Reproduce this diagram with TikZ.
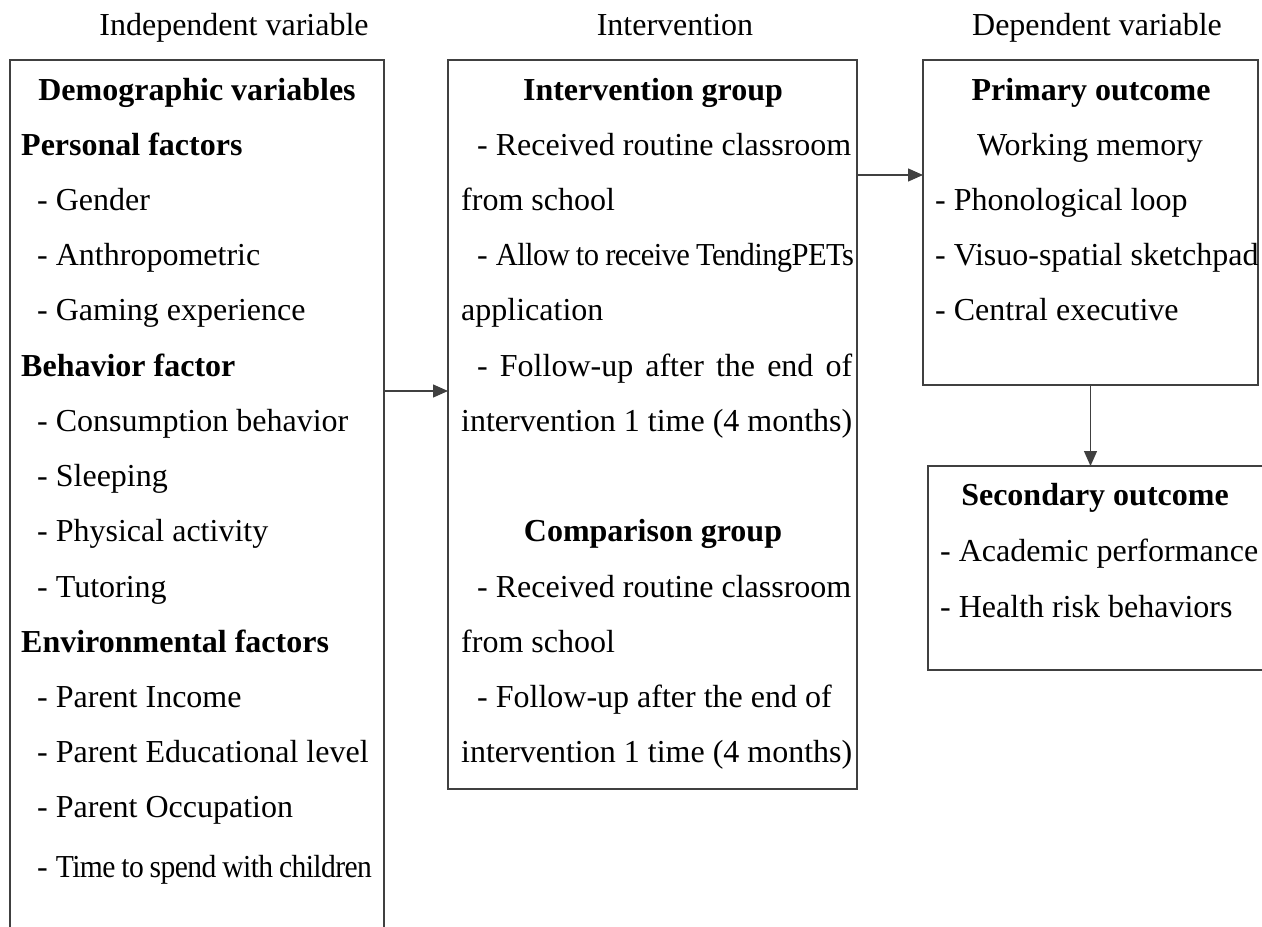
\documentclass[tikz,border=0pt]{standalone}
\usepackage{fontspec}
\setmainfont{Liberation Serif}
\newfontfamily\tightserif[LetterSpace=-2]{Liberation Serif}
\usepackage{graphicx}
\usetikzlibrary{arrows.meta}

\definecolor{linegray}{HTML}{404040}

% set words with slightly tight tracking and fit them to a given width, keeping their height
\newcommand{\tightline}[2]{\resizebox{#1}{\height}{\tightserif\spaceskip=0.2em plus 0.05em minus 0.05em #2}}

\tikzset{
  x=1pt, y=-1pt,
  basefont/.style={font=\fontsize{32}{38}\selectfont},
  frame/.style={draw=linegray, line width=1.6pt, inner sep=0pt, outer sep=0pt, anchor=north west},
  lt/.style={basefont, inner sep=0pt, anchor=base west},
  ct/.style={basefont, inner sep=0pt, anchor=base},
  hdc/.style={font=\fontsize{32}{38}\selectfont\bfseries, inner sep=0pt, anchor=base},
  hdl/.style={font=\fontsize{32}{38}\selectfont\bfseries, inner sep=0pt, anchor=base west},
  link/.style={draw=linegray, line width=1.3pt, -{Triangle[length=15pt,width=13pt]}},
}

\begin{document}
\begin{tikzpicture}
\useasboundingbox (0,0) rectangle (1262,927);

% column titles
\node[ct] (t1) at (234,35) {Independent variable};
\node[ct] (t2) at (675,35) {Intervention};
\node[ct] (t3) at (1097,35) {Dependent variable};

% frames
\node[frame, minimum width=374pt, minimum height=875pt] (indep) at (10,60) {};
\node[frame, minimum width=409pt, minimum height=729pt] (interv) at (448,60) {};
\node[frame, minimum width=335pt, minimum height=325pt] (primary) at (923,60) {};
\node[frame, minimum width=336pt, minimum height=204pt] (secondary) at (928,466) {};

% independent variables
\node[hdc] (d0) at (197,100) {Demographic variables};
\node[hdl] (d1) at (21,155) {Personal factors};
\node[lt] (d2) at (37,210) {- Gender};
\node[lt] (d3) at (37,265) {- Anthropometric};
\node[lt] (d4) at (37,320) {- Gaming experience};
\node[hdl] (d5) at (21,376) {Behavior factor};
\node[lt] (d6) at (37,431) {- Consumption behavior};
\node[lt] (d7) at (37,486) {- Sleeping};
\node[lt] (d8) at (37,541) {- Physical activity};
\node[lt] (d9) at (37,597) {- Tutoring};
\node[hdl] (d10) at (21,652) {Environmental factors};
\node[lt] (d11) at (37,707) {- Parent Income};
\node[lt] (d12) at (37,762) {- Parent Educational level};
\node[lt] (d13) at (37,817) {- Parent Occupation};
\node[lt] (d14) at (37,877) {- \tightline{316pt}{Time to spend with children}};

% intervention
\node[hdc] (i0) at (653,100) {Intervention group};
\node[lt] (i1) at (477,155) {- Received routine classroom};
\node[lt] (i2) at (461,210) {from school};
\node[lt] (i3) at (477,265) {- \tightline{358pt}{Allow to receive TendingPETs}};
\node[lt] (i4) at (461,320) {application};
\node[lt] (i5) at (477,376) {\makebox[375pt][s]{- Follow-up after the end of}};
\node[lt] (i6) at (461,431) {intervention 1 time (4 months)};
\node[hdc] (c0) at (653,541) {Comparison group};
\node[lt] (c1) at (477,597) {- Received routine classroom};
\node[lt] (c2) at (461,652) {from school};
\node[lt] (c3) at (477,707) {- Follow-up after the end of};
\node[lt] (c4) at (461,762) {intervention 1 time (4 months)};

% primary outcome
\node[hdc] (p0) at (1091,100) {Primary outcome};
\node[ct] (p1) at (1090,155) {Working memory};
\node[lt] (p2) at (935,210) {- Phonological loop};
\node[lt] (p3) at (935,265) {- Visuo-spatial sketchpad};
\node[lt] (p4) at (935,320) {- Central executive};

% secondary outcome
\node[hdc] (s0) at (1095,505) {Secondary outcome};
\node[lt] (s1) at (940,561) {- Academic performance};
\node[lt] (s2) at (940,617) {- Health risk behaviors};

% connectors
\coordinate (a1) at (0,391);
\coordinate (a2) at (0,175);
\draw[link] (indep.east |- a1) -- (interv.west |- a1);
\draw[link] (interv.east |- a2) -- (primary.west |- a2);
\draw[link] (primary.south) -- (primary.south |- secondary.north);
\end{tikzpicture}
\end{document}
